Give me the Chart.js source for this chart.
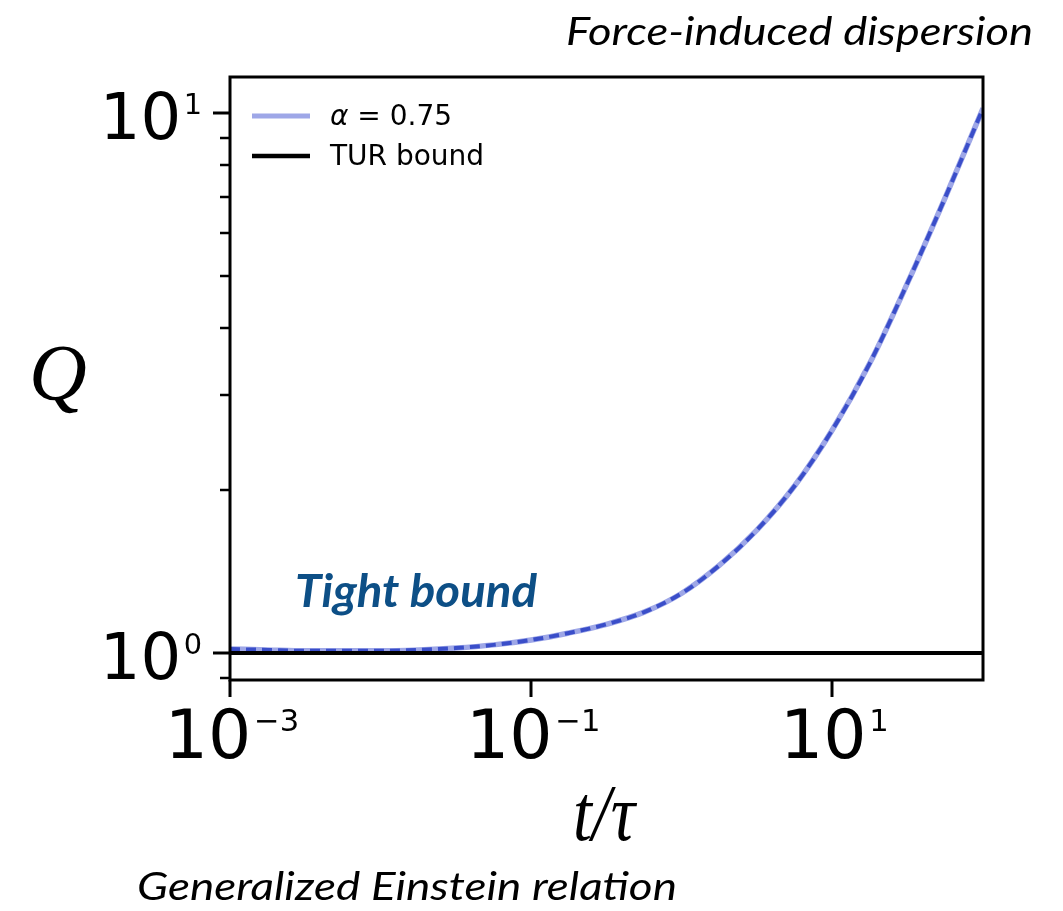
<!DOCTYPE html>
<html>
<head>
<meta charset="utf-8">
<script src="https://cdn.jsdelivr.net/npm/chart.js@4.4.1/dist/chart.umd.min.js"></script>
<style>
  html, body { margin: 0; padding: 0; background: #ffffff; }
  canvas { display: block; }
</style>
</head>
<body>
<canvas id="chart" width="1063" height="911"></canvas>
<script>
// Q(t) for alpha = 0.75 against the TUR lower bound
const timeRatio = [0.001, 0.00178, 0.00316, 0.00562, 0.01, 0.0178, 0.0316, 0.0562, 0.1, 0.178, 0.316, 0.562, 1, 1.78, 3.16, 5.62, 10, 17.8, 31.6, 56.2, 100];
const qAlpha075 = [1.017, 1.013, 1.009, 1.009, 1.009, 1.013, 1.021, 1.035, 1.057, 1.089, 1.13, 1.19, 1.29, 1.454, 1.69, 2.04, 2.59, 3.45, 4.85, 6.98, 10.2];
const turBoundT = [0.001, 100];
const turBoundQ = [1, 1];

const xTickValues = [0.001, 0.1, 10];
const xTickExponents = ['\u22123', '\u22121', '1'];
const yTickValues = [1, 10];
const yTickExponents = ['0', '1'];
const yMinorTickValues = [0.9, 2, 3, 4, 5, 6, 7, 8, 9];

const seriesLabel = '\u03b1 = 0.75';
const boundLabel = 'TUR bound';
const topNote = 'Force-induced dispersion';
const bottomNote = 'Generalized Einstein relation';
const regionNote = 'Tight bound';

const LIGHT = '#9ea7e7';
const DARK = '#3a4ec9';

const toPoints = (xs, ys) => xs.map((x, i) => ({ x, y: ys[i] }));

// frame, ticks, tick labels, axis titles, legend and notes
const decorations = {
  id: 'decorations',
  afterDraw(chart) {
    const ctx = chart.ctx;
    const area = chart.chartArea;
    const xs = chart.scales.x;
    const ys = chart.scales.y;
    ctx.save();
    ctx.strokeStyle = '#000';
    ctx.fillStyle = '#000';
    ctx.lineWidth = 3;
    ctx.strokeRect(area.left, area.top, area.right - area.left, area.bottom - area.top);

    // tick marks
    ctx.lineCap = 'butt';
    xTickValues.forEach(v => {
      const px = Math.round(xs.getPixelForValue(v));
      ctx.beginPath(); ctx.moveTo(px, area.bottom); ctx.lineTo(px, area.bottom + 17); ctx.stroke();
    });
    yTickValues.forEach(v => {
      const py = Math.round(ys.getPixelForValue(v));
      ctx.beginPath(); ctx.moveTo(area.left, py); ctx.lineTo(area.left - 17, py); ctx.stroke();
    });
    ctx.lineWidth = 2.5;
    yMinorTickValues.forEach(v => {
      const py = Math.round(ys.getPixelForValue(v));
      ctx.beginPath(); ctx.moveTo(area.left, py); ctx.lineTo(area.left - 10, py); ctx.stroke();
    });

    // power-of-ten labels: "10" with a small raised exponent
    function powerLabel(x, midY, exp, size, align) {
      const expSize = size * 0.45;
      const baseFont = `${size}px "DejaVu Sans"`;
      const expFont = `${expSize}px "DejaVu Sans"`;
      ctx.font = baseFont;
      const wBase = ctx.measureText('10').width;
      ctx.font = expFont;
      const wExp = ctx.measureText(exp).width;
      const gap = size * 0.04;
      const total = wBase + gap + wExp;
      let left = align === 'right' ? x - total : x - total / 2;
      const cap = size * 0.729;
      const baseline = midY + cap / 2;
      ctx.textAlign = 'left';
      ctx.textBaseline = 'alphabetic';
      ctx.font = baseFont;
      ctx.fillText('10', left, baseline);
      ctx.font = expFont;
      ctx.fillText(exp, left + wBase + gap, baseline - cap + expSize * 0.729);
    }
    xTickValues.forEach((v, i) => {
      powerLabel(xs.getPixelForValue(v) + 2, 733, xTickExponents[i], 68, 'center');
    });
    yTickValues.forEach((v, i) => {
      powerLabel(area.left - 28, ys.getPixelForValue(v) + 3, yTickExponents[i], 64, 'right');
    });

    // axis titles
    ctx.textAlign = 'center';
    ctx.textBaseline = 'alphabetic';
    ctx.font = 'italic 80px "Liberation Serif"';
    ctx.save();
    ctx.translate(604, 840);
    ctx.scale(0.85, 1);
    ctx.fillText('t/\u03c4', 0, 0);
    ctx.restore();
    ctx.font = 'italic 80px "Liberation Serif"';
    ctx.fillText('Q', 58, 400);

    // legend built from the dataset entries
    const entries = chart.data.datasets.filter(d => d.legendRank !== undefined)
      .sort((a, b) => a.legendRank - b.legendRank);
    entries.forEach((d, i) => {
      const cy = 116 + i * 40;
      ctx.strokeStyle = d.borderColor;
      ctx.lineWidth = d.legendWidth;
      ctx.setLineDash([]);
      ctx.beginPath(); ctx.moveTo(252, cy); ctx.lineTo(310, cy); ctx.stroke();
      ctx.fillStyle = '#000';
      ctx.textAlign = 'left';
      ctx.textBaseline = 'middle';
      if (d.label.startsWith('\u03b1')) {
        ctx.font = 'italic 28px "DejaVu Sans"';
        ctx.fillText('\u03b1', 330, cy + 2);
        const wa = ctx.measureText('\u03b1').width;
        ctx.font = '28px "DejaVu Sans"';
        ctx.fillText(d.label.slice(1), 330 + wa, cy + 2);
      } else {
        ctx.font = '28px "DejaVu Sans"';
        ctx.fillText(d.label, 330, cy + 2);
      }
    });

    // notes
    function fitText(text, font, left, right, baseline, color) {
      ctx.font = font;
      ctx.fillStyle = color;
      ctx.textAlign = 'left';
      ctx.textBaseline = 'alphabetic';
      const w = ctx.measureText(text).width;
      ctx.save();
      ctx.translate(left, baseline);
      ctx.scale((right - left) / w, 1);
      ctx.fillText(text, 0, 0);
      ctx.restore();
    }
    fitText(topNote, 'italic 38px Lato', 566, 1033, 45, '#000');
    fitText(bottomNote, 'italic 38px Lato', 137, 677, 900, '#000');
    fitText(regionNote, 'bold italic 46px Lato', 295, 537, 607, '#0d4f86');
    ctx.restore();
  }
};

new Chart(document.getElementById('chart'), {
  type: 'line',
  data: {
    datasets: [
      {
        label: boundLabel,
        data: toPoints(turBoundT, turBoundQ),
        borderColor: '#000000',
        borderWidth: 4,
        pointRadius: 0,
        legendRank: 1,
        legendWidth: 4.5,
        order: 0
      },
      {
        label: seriesLabel + ' dashed',
        data: toPoints(timeRatio, qAlpha075),
        borderColor: DARK,
        borderWidth: 4,
        borderDash: [10, 6],
        pointRadius: 0,
        cubicInterpolationMode: 'monotone',
        order: 1
      },
      {
        label: seriesLabel,
        data: toPoints(timeRatio, qAlpha075),
        borderColor: LIGHT,
        borderWidth: 5.5,
        pointRadius: 0,
        cubicInterpolationMode: 'monotone',
        legendRank: 0,
        legendWidth: 5,
        order: 2
      }
    ]
  },
  options: {
    responsive: false,
    animation: false,
    devicePixelRatio: 1,
    layout: { padding: { left: 0, top: 77, right: 80, bottom: 0 } },
    plugins: { legend: { display: false }, tooltip: { enabled: false } },
    scales: {
      x: {
        type: 'logarithmic',
        min: 0.001,
        max: 100,
        grid: { display: false },
        border: { display: false },
        ticks: { display: false },
        afterFit(s) { s.height = 231; }
      },
      y: {
        type: 'logarithmic',
        min: 0.891,
        max: 11.66,
        grid: { display: false },
        border: { display: false },
        ticks: { display: false },
        afterFit(s) { s.width = 230; }
      }
    }
  },
  plugins: [decorations]
});
</script>
</body>
</html>
